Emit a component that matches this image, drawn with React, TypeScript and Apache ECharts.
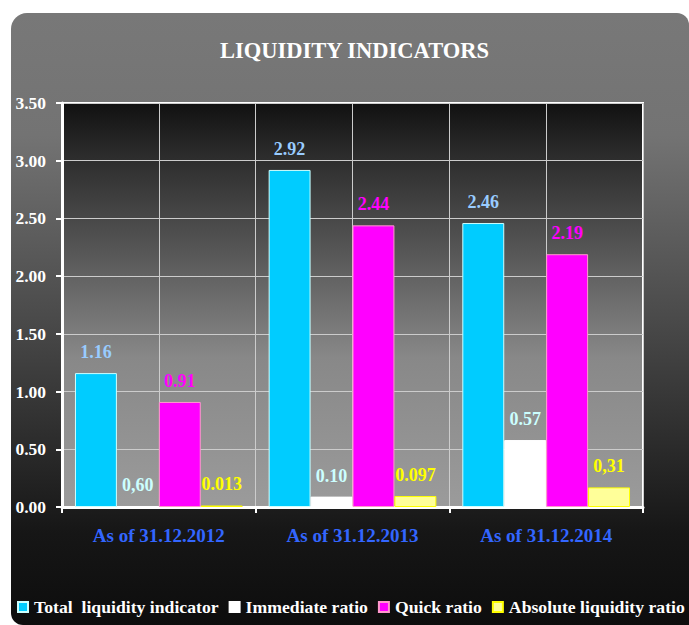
import React, { useEffect, useRef } from "react";
import * as echarts from "echarts";

const categories = ["As of 31.12.2012", "As of 31.12.2013", "As of 31.12.2014"];
const seriesNames = ["Total  liquidity indicator", "Immediate ratio", "Quick ratio", "Absolute liquidity ratio"];
const totalValues = [1.16, 2.92, 2.46];
const immediateValues = [0.006, 0.09, 0.58];
const quickValues = [0.91, 2.44, 2.19];
const absoluteValues = [0.013, 0.095, 0.17];
const totalLabels = ["1.16", "2.92", "2.46"];
const immediateLabels = ["0,60", "0.10", "0.57"];
const quickLabels = ["0.91", "2.44", "2.19"];
const absoluteLabels = ["0.013", "0.097", "0,31"];
const yTicks = [0, 0.5, 1, 1.5, 2, 2.5, 3, 3.5];

const FONT = "'Liberation Serif', 'Times New Roman', serif";

export default function App() {
  const ref = useRef<HTMLDivElement>(null);
  useEffect(() => {
    if (!ref.current) return;
    const chart = echarts.init(ref.current, undefined, { renderer: "svg" });
    const mk = (
      name: string,
      data: number[],
      labels: string[],
      fill: string,
      border: string,
      labelColor: string
    ) => ({
      name,
      type: "bar",
      data,
      xAxisIndex: 0,
      barGap: "0%",
      barCategoryGap: "13.4%",
      itemStyle: { color: fill, borderColor: border, borderWidth: 1 },
      label: {
        show: true,
        position: "top",
        distance: 12,
        formatter: (p: any) => labels[p.dataIndex],
        color: labelColor,
        fontFamily: FONT,
        fontWeight: "bold",
        fontSize: 18,
      },
    });
    chart.setOption({
      animation: false,
      backgroundColor: "#ffffff",
      graphic: [
        {
          type: "rect",
          z: -10,
          silent: true,
          shape: { x: 11, y: 13, width: 678, height: 612, r: [16, 12, 0, 12] },
          style: {
            fill: new echarts.graphic.LinearGradient(0, 0, 0, 1, [
              { offset: 0, color: "#787878" },
              { offset: 0.2, color: "#737373" },
              { offset: 0.5, color: "#4a4a4a" },
              { offset: 0.85, color: "#161616" },
              { offset: 1, color: "#0d0d0d" },
            ]),
          },
        },
      ],
      title: {
        text: "LIQUIDITY INDICATORS",
        left: 215,
        top: 34,
        textStyle: { color: "#ffffff", fontFamily: FONT, fontWeight: "bold", fontSize: 22.5 },
      },
      legend: {
        left: 17,
        top: 598,
        width: 900,
        padding: 0,
        itemWidth: 10,
        itemHeight: 10,
        itemGap: 10,
        icon: "rect",
        data: seriesNames,
        textStyle: { color: "#ffffff", fontFamily: FONT, fontWeight: "bold", fontSize: 17.7, padding: [0, 0, 0, 1] },
      },
      grid: {
        left: 62,
        top: 103,
        right: 46,
        bottom: 118,
        show: true,
        borderColor: "#ffffff",
        borderWidth: 2,
        backgroundColor: new echarts.graphic.LinearGradient(0, 0, 0, 1, [
          { offset: 0, color: "#111111" },
          { offset: 0.12, color: "#2a2a2a" },
          { offset: 0.36, color: "#555555" },
          { offset: 0.63, color: "#888888" },
          { offset: 1, color: "#9b9b9b" },
        ]),
      },
      xAxis: [
        {
          type: "category",
          data: categories,
          axisLine: { show: true, lineStyle: { color: "#ffffff", width: 3 } },
          axisTick: { show: true, length: 6, lineStyle: { color: "#ffffff", width: 2 } },
          axisLabel: { color: "#3366ff", fontFamily: FONT, fontWeight: "bold", fontSize: 19, margin: 19 },
          splitLine: { show: false },
        },
        {
          type: "value",
          min: 0,
          max: 6,
          interval: 1,
          position: "top",
          axisLine: { show: false },
          axisTick: { show: false },
          axisLabel: { show: false },
          splitLine: { show: true, lineStyle: { color: "#cccccc", width: 1 } },
        },
      ],
      yAxis: {
        type: "value",
        min: yTicks[0],
        max: yTicks[yTicks.length - 1],
        interval: 0.5,
        axisLine: { show: true, lineStyle: { color: "#ffffff", width: 3 } },
        axisTick: { show: true, length: 6, lineStyle: { color: "#ffffff", width: 2 } },
        axisLabel: {
          color: "#ffffff",
          fontFamily: FONT,
          fontWeight: "bold",
          fontSize: 17.5,
          margin: 16,
          formatter: (v: number) => v.toFixed(2),
        },
        splitLine: { show: true, lineStyle: { color: "#cccccc", width: 1 } },
      },
      series: [
        mk(seriesNames[0], totalValues, totalLabels, "#00ccff", "#ccffff", "#99ccff"),
        mk(seriesNames[1], immediateValues, immediateLabels, "#ffffff", "#ffffff", "#ccffff"),
        mk(seriesNames[2], quickValues, quickLabels, "#ff00ff", "#ff99cc", "#ff00ff"),
        mk(seriesNames[3], absoluteValues, absoluteLabels, "#ffff99", "#ffff00", "#ffff00"),
      ],
    });
    return () => chart.dispose();
  }, []);
  return (
    <div
      ref={ref}
      style={{ position: "absolute", left: 0, top: 0, width: 689, height: 625 }}
    />
  );
}
